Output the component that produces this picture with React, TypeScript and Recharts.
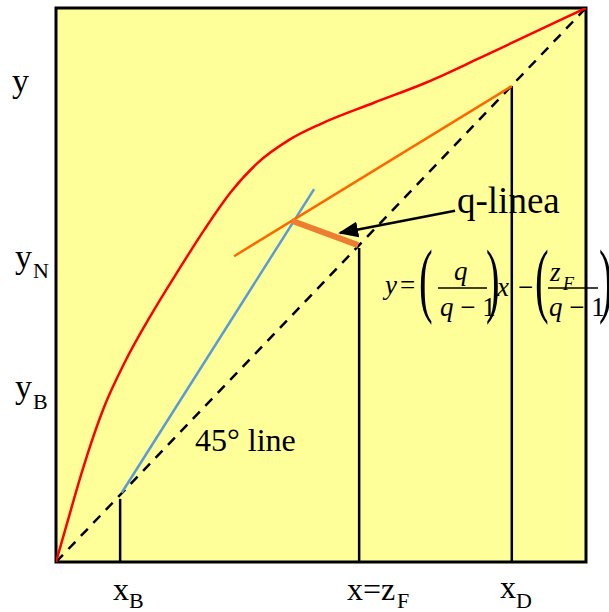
import { ComposedChart, Line, XAxis, YAxis, CartesianGrid, ReferenceArea } from "recharts";

// equilibrium curve (mole fractions)
const eqX = [0, 0.02, 0.05, 0.09, 0.13, 0.18, 0.23, 0.28, 0.33, 0.38, 0.44, 0.5, 0.6, 0.7, 0.8, 0.9, 1];
const eqY = [0, 0.067, 0.166, 0.278, 0.361, 0.447, 0.525, 0.6, 0.668, 0.72, 0.762, 0.791, 0.829, 0.866, 0.91, 0.955, 1];

// compositions
const xB = 0.121;
const zF = 0.572;
const xD = 0.86;

// operating lines
const rectX = [0.336, 0.86];
const rectY = [0.552, 0.859];
const stripX = [0.124, 0.487];
const stripY = [0.125, 0.673];

// q-line segment and arrow pointing to it
const qX = [0.445, 0.57];
const qY = [0.616, 0.572];
const arrowX = [0.753, 0.536];
const arrowY = [0.634, 0.594];

// vertical drop lines: [x, top]
const drops: [number, number][] = [
  [xB, 0.114],
  [zF, 0.567],
  [xD, 0.859],
];

const pts = (xs: number[], ys: number[]) => xs.map((x, i) => ({ x, y: ys[i] }));

const serif = "'Liberation Serif', 'Times New Roman', serif";

function Overlay() {
  const lbl = { fontFamily: serif, fill: "#000" } as const;
  const eq = { fontFamily: serif, fill: "#000", fontSize: 27 } as const;
  return (
    <svg width={609} height={612} style={{ position: "absolute", left: 0, top: 0, pointerEvents: "none" }}>
      <text x={12} y={92} fontSize={34} {...lbl}>y</text>
      <text x={15} y={268} fontSize={34} {...lbl}>y</text>
      <text x={33} y={278} fontSize={22} {...lbl}>N</text>
      <text x={15} y={398} fontSize={34} {...lbl}>y</text>
      <text x={33} y={409} fontSize={22} {...lbl}>B</text>

      <text x={195} y={451} fontSize={32} {...lbl}>45° line</text>
      <text x={457} y={213} fontSize={37} {...lbl}>q-linea</text>

      <text x={113} y={600} fontSize={32} {...lbl}>x</text>
      <text x={129} y={608} fontSize={22} {...lbl}>B</text>
      <text x={347} y={600} fontSize={32} {...lbl}>x=z</text>
      <text x={397} y={608} fontSize={22} {...lbl}>F</text>
      <text x={500} y={598} fontSize={32} {...lbl}>x</text>
      <text x={516} y={608} fontSize={22} {...lbl}>D</text>

      {/* y = (q/(q-1)) x - (zF/(q-1)) */}
      <text x={385} y={294} fontStyle="italic" {...eq}>y</text>
      <text x={400} y={294} {...eq}>=</text>
      <text transform="translate(419,307) scale(0.5,1)" fontSize={82} {...lbl}>(</text>
      <text x={454} y={280} fontStyle="italic" {...eq}>q</text>
      <line x1={438} x2={487} y1={288} y2={288} stroke="#000" strokeWidth={1.3} />
      <text x={440} y={316} {...eq}><tspan fontStyle="italic">q</tspan> − 1</text>
      <text transform="translate(486,307) scale(0.5,1)" fontSize={82} {...lbl}>)</text>
      <text x={497} y={296} fontStyle="italic" {...eq}>x</text>
      <text x={518} y={296} {...eq}>−</text>
      <text transform="translate(535,307) scale(0.5,1)" fontSize={82} {...lbl}>(</text>
      <text x={550} y={281} fontStyle="italic" {...eq}>z</text>
      <text x={563} y={290} fontStyle="italic" fontSize={18} fontFamily={serif}>F</text>
      <line x1={548} x2={598} y1={288} y2={288} stroke="#000" strokeWidth={1.3} />
      <text x={549} y={316} {...eq}><tspan fontStyle="italic">q</tspan> − 1</text>
      <text transform="translate(599,307) scale(0.5,1)" fontSize={82} {...lbl}>)</text>
    </svg>
  );
}

export default function App() {
  return (
    <div style={{ position: "absolute", left: 0, top: 0, width: 609, height: 612, background: "#fff" }}>
      <ComposedChart width={609} height={612} margin={{ top: 8, right: 23, bottom: 50, left: 56 }}>
        <defs>
          <marker id="arrowHead" markerWidth={20} markerHeight={16} refX={18} refY={8} orient="auto" markerUnits="userSpaceOnUse">
            <path d="M0,0 L20,8 L0,16 z" fill="#000" />
          </marker>
        </defs>
        <CartesianGrid fill="#FFFF99" horizontal={false} vertical={false} />
        <XAxis type="number" dataKey="x" domain={[0, 1]} hide allowDataOverflow />
        <YAxis type="number" dataKey="y" domain={[0, 1]} hide allowDataOverflow />

        <Line data={pts([0, 1], [0, 1])} dataKey="y" type="linear" stroke="#000" strokeWidth={2.5}
          strokeDasharray="10 8" dot={false} activeDot={false} isAnimationActive={false} />
        {drops.map(([x, top], i) => (
          <Line key={i} data={pts([x, x], [0, top])} dataKey="y" type="linear" stroke="#000" strokeWidth={2.5}
            dot={false} activeDot={false} isAnimationActive={false} />
        ))}
        <Line data={pts(stripX, stripY)} dataKey="y" type="linear" stroke="#5B9BD5" strokeWidth={2.5}
          dot={false} activeDot={false} isAnimationActive={false} />
        <Line data={pts(rectX, rectY)} dataKey="y" type="linear" stroke="#FF6600" strokeWidth={2.5}
          dot={false} activeDot={false} isAnimationActive={false} />
        <Line data={pts(qX, qY)} dataKey="y" type="linear" stroke="#ED7D31" strokeWidth={6}
          dot={false} activeDot={false} isAnimationActive={false} />
        <Line data={pts(eqX, eqY)} dataKey="y" type="monotone" stroke="#FF0000" strokeWidth={2.5}
          dot={false} activeDot={false} isAnimationActive={false} />
        <Line data={pts(arrowX, arrowY)} dataKey="y" type="linear" stroke="#000" strokeWidth={2.5}
          markerEnd="url(#arrowHead)" dot={false} activeDot={false} isAnimationActive={false} />

        <ReferenceArea x1={0} x2={1} y1={0} y2={1} fill="none" fillOpacity={0} stroke="#000" strokeWidth={3} ifOverflow="visible" />
      </ComposedChart>
      <Overlay />
    </div>
  );
}
